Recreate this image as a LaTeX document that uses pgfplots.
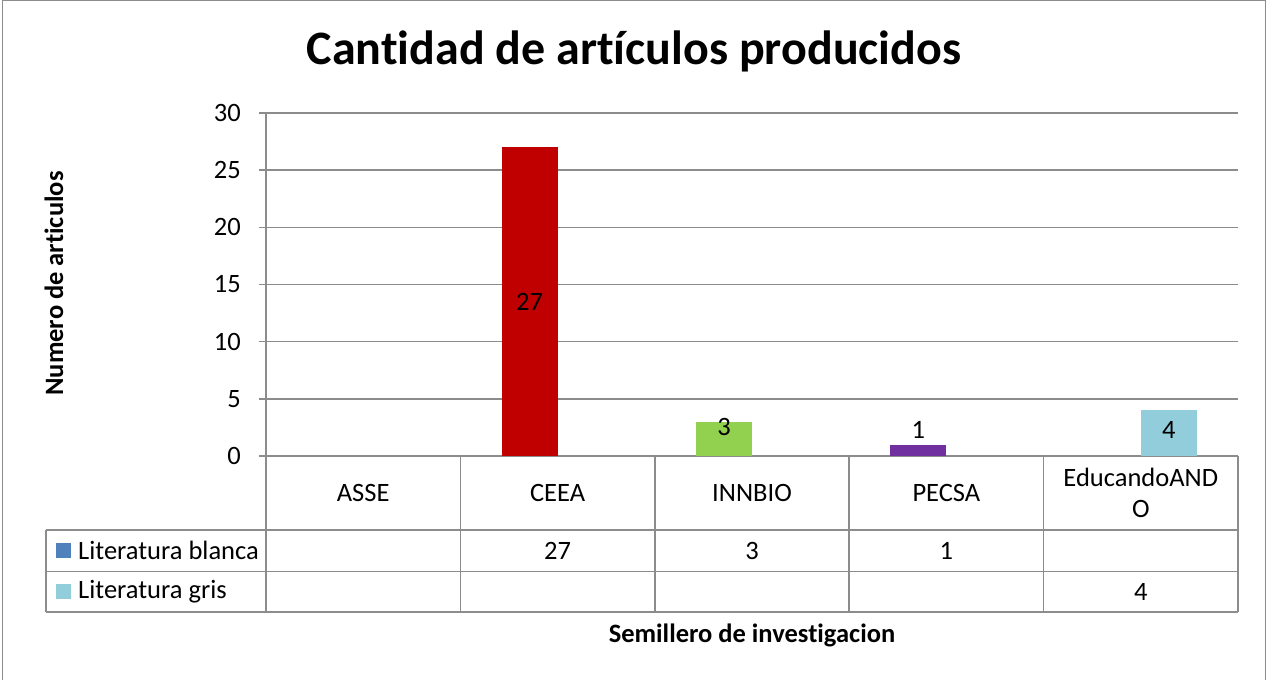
\documentclass[border=0pt]{standalone}
\usepackage{fontspec}
\setmainfont{Carlito}[Ligatures=NoCommon]
\usepackage{pgfplots}
\pgfplotsset{compat=1.18}
\definecolor{gridgray}{HTML}{8C8C8C}
\definecolor{ceea}{HTML}{C00000}
\definecolor{innbio}{HTML}{92D050}
\definecolor{pecsa}{HTML}{7030A0}
\definecolor{gris}{HTML}{92CDDC}
\definecolor{blanca}{HTML}{4F81BD}
\newcommand{\bodyfont}{\fontsize{26.5}{31}\selectfont}
\begin{document}
\begin{tikzpicture}[x=1pt,y=1pt]
\path[use as bounding box] (0,0) rectangle (1267,680);
\draw[gridgray, line width=1.5pt] (2.5,0) -- (2.5,679.3) -- (1265.5,679.3) -- (1265.5,0);
\begin{axis}[
  at={(266pt,224pt)}, anchor=south west,
  scale only axis, width=972pt, height=343pt,
  xmin=-0.5, xmax=4.5, ymin=0, ymax=30,
  ytick={0,5,...,30}, xtick=\empty,
  ymajorgrids, grid style={gridgray, line width=1.5pt},
  axis lines*=left, axis line style={gridgray, line width=1.5pt},
  tick align=outside, major tick length=7pt,
  ytick style={gridgray, line width=1.5pt},
  tick label style={font=\bodyfont},
  yticklabel style={inner sep=0pt, xshift=-18pt},
  /pgf/number format/assume math mode=true,
  clip=false,
]
\addplot[ybar, bar width=56pt, bar shift=-28pt, fill=ceea, draw=none] coordinates {(1,27)};
\addplot[ybar, bar width=56pt, bar shift=-28pt, fill=innbio, draw=none] coordinates {(2,3)};
\addplot[ybar, bar width=56pt, bar shift=-28pt, fill=pecsa, draw=none] coordinates {(3,1)};
\addplot[ybar, bar width=56pt, bar shift=28pt, fill=gris, draw=none] coordinates {(4,4)};
\addplot[draw=none, mark=none, nodes near coords, point meta=explicit symbolic,
  nodes near coords align={center},
  every node near coord/.append style={font=\bodyfont, anchor=center, inner sep=0pt}]
  coordinates {(0.856,13.5)[27] (1.856,2.5)[3] (2.856,2.3)[1] (4.144,2.3)[4]};
\end{axis}
% data table
\begin{scope}[gridgray, line width=1.5pt]
\draw (46,150) -- (1238,150);
\draw (46,108.5) -- (1238,108.5);
\draw (46,68) -- (1238,68);
\draw (46,150) -- (46,68);
\foreach \x in {266,460.4,654.8,849.2,1043.6,1238} \draw (\x,224) -- (\x,68);
\end{scope}
\foreach \x/\t in {363.2/ASSE,557.6/CEEA,752/INNBIO,946.4/PECSA}
  \node[font=\bodyfont] at (\x,187) {\t};
\node[font=\bodyfont, align=center] at (1140.8,187) {EducandoAND\\O};
\fill[blanca] (56,121.75) rectangle (71,136.75);
\fill[gris] (56,80.75) rectangle (71,95.75);
\node[font=\bodyfont, anchor=west, inner sep=0pt] at (78,129.25) {Literatura blanca};
\node[font=\bodyfont, anchor=west, inner sep=0pt] at (78,88.25) {Literatura gris};
\foreach \x/\t in {557.6/27,752/3,946.4/1}
  \node[font=\bodyfont] at (\x,129.25) {\t};
\node[font=\bodyfont] at (1140.8,88.25) {4};
% titles
\node[font=\bfseries\fontsize{48}{57}\selectfont, anchor=base] at (634,615) {Cantidad de artículos producidos};
\node[font=\bfseries\fontsize{26.5}{31}\selectfont, rotate=90] at (54,396.5) {Numero de articulos};
\node[font=\bfseries\fontsize{26.5}{31}\selectfont, anchor=base] at (752,37) {Semillero de investigacion};
\end{tikzpicture}
\end{document}
